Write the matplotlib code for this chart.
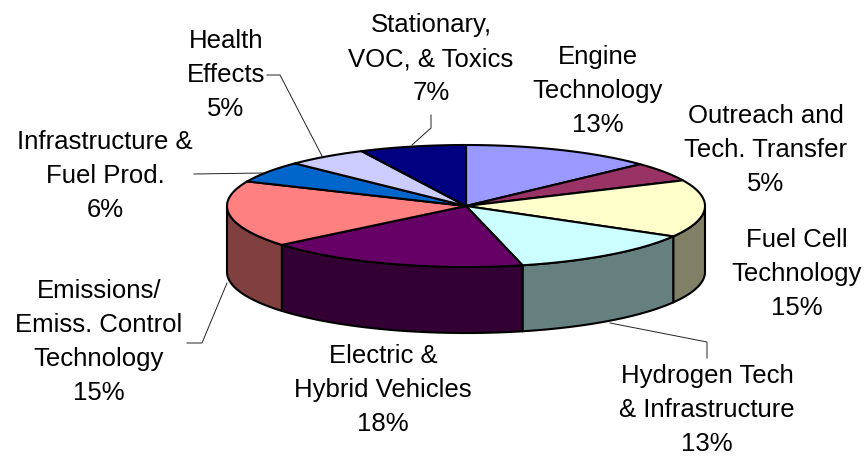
import numpy as np
import matplotlib
matplotlib.use('Agg')
import matplotlib.pyplot as plt
from matplotlib.colors import to_rgb
from matplotlib.patches import Polygon

plt.rcParams['font.family'] = ['Liberation Sans', 'DejaVu Sans']

categories = ['Engine\nTechnology', 'Outreach and\nTech. Transfer', 'Fuel Cell\nTechnology',
              'Hydrogen Tech\n& Infrastructure', 'Electric &\nHybrid Vehicles',
              'Emissions/\nEmiss. Control\nTechnology', 'Infrastructure &\nFuel Prod.',
              'Health\nEffects', 'Stationary,\nVOC, & Toxics']
percent_labels = [13, 5, 15, 13, 18, 15, 6, 5, 7]
slice_shares = [13.0, 5.1, 15.2, 12.9, 17.8, 17.6, 5.7, 5.5, 7.2]
colors = ['#9999FF', '#993366', '#FFFFCC', '#CCFFFF', '#660066',
          '#FF8080', '#0066CC', '#CCCCFF', '#000080']

# centre x and last-line baseline y of each label
label_pos = [(598, 132), (766, 191), (797, 315), (707, 451), (383, 431),
             (99, 400), (105, 217), (226, 116), (431, 100)]
leaders = [
    [(267, 75), (280, 75), (322, 156)],
    [(431, 115), (431, 128), (412, 145)],
    [(194, 174), (263, 173)],
    [(187, 343), (202, 343), (227, 283)],
    [(610, 323), (707, 342), (707, 358)],
]

CX, CY, RX, RY, DEPTH = 466, 206, 239, 61, 66

fig = plt.figure(figsize=(8.65, 4.57), dpi=100)
ax = fig.add_axes([0, 0, 1, 1])
ax.set_xlim(0, 865)
ax.set_ylim(457, 0)
ax.axis('off')


def rim(a, b, n=80):
    t = np.radians(np.linspace(a, b, n))
    return CX + RX * np.sin(t), CY - RY * np.cos(t)


shares = np.array(slice_shares, dtype=float)
edges = np.concatenate([[0], np.cumsum(shares) / shares.sum() * 360])

# side walls: only the front half of the rim (90..270 degrees) is visible
for a, b, c in zip(edges[:-1], edges[1:], colors):
    lo, hi = max(a, 90), min(b, 270)
    if lo < hi:
        x, y = rim(lo, hi)
        pts = np.r_[np.c_[x, y], np.c_[x[::-1], y[::-1] + DEPTH]]
        dark = tuple(v * 0.5 for v in to_rgb(c))
        ax.add_patch(Polygon(pts, closed=True, fc=dark, ec='black', lw=1.5, joinstyle='round', zorder=2))

# top faces
for a, b, c in zip(edges[:-1], edges[1:], colors):
    x, y = rim(a, b)
    pts = np.r_[[(CX, CY)], np.c_[x, y]]
    ax.add_patch(Polygon(pts, closed=True, fc=c, ec='black', lw=1.5, joinstyle='round', zorder=3))

for seg in leaders:
    xs, ys = zip(*seg)
    ax.plot(xs, ys, color='#222222', lw=0.7, zorder=1, solid_joinstyle='miter')

for name, pct, (x, y) in zip(categories, percent_labels, label_pos):
    ax.text(x, y, f'{name}\n{pct}%', ha='center', va='baseline', fontsize=18.5,
            linespacing=1.52, color='black', zorder=5)

fig.savefig('out.png', dpi=100)
